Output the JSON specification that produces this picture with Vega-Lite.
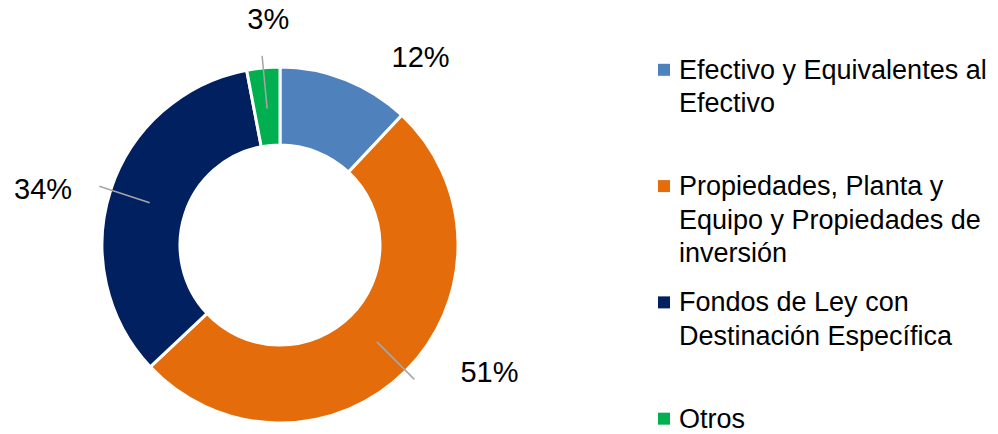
{
  "$schema": "https://vega.github.io/schema/vega-lite/v6.json",
  "padding": 0,
  "autosize": {"type": "pad"},
  "spacing": 0,
  "config": {"view": {"stroke": null}, "font": "Liberation Sans"},
  "data": {
    "values": [
      {"orden": 1, "categoria": "Efectivo y Equivalentes al Efectivo", "leyenda": "Efectivo y Equivalentes al\nEfectivo", "valor": 0.12},
      {"orden": 2, "categoria": "Propiedades, Planta y Equipo y Propiedades de inversión", "leyenda": "Propiedades, Planta y\nEquipo y Propiedades de\ninversión", "valor": 0.51},
      {"orden": 3, "categoria": "Fondos de Ley con Destinación Específica", "leyenda": "Fondos de Ley con\nDestinación Específica", "valor": 0.34},
      {"orden": 4, "categoria": "Otros", "leyenda": "Otros", "valor": 0.03}
    ]
  },
  "hconcat": [
    {
      "width": 560,
      "height": 434,
      "encoding": {
        "theta": {"field": "valor", "type": "quantitative", "stack": true},
        "order": {"field": "orden", "type": "quantitative"},
        "color": {
          "field": "categoria",
          "type": "nominal",
          "scale": {
            "domain": ["Efectivo y Equivalentes al Efectivo", "Propiedades, Planta y Equipo y Propiedades de inversión", "Fondos de Ley con Destinación Específica", "Otros"],
            "range": ["#4F81BD", "#E46C0A", "#002060", "#00B050"]
          },
          "legend": null
        }
      },
      "layer": [
        {
          "mark": {"type": "arc", "outerRadius": 178, "innerRadius": 100, "stroke": "white", "strokeWidth": 3, "yOffset": 28}
        },
        {
          "transform": [
            {"window": [{"op": "sum", "field": "valor", "as": "cum"}], "sort": [{"field": "orden"}], "frame": [null, 0]},
            {"calculate": "datum.cum - datum.valor / 2", "as": "mid"},
            {"filter": "datum.orden > 1"}
          ],
          "mark": {"type": "arc", "outerRadius": 190, "innerRadius": 137, "filled": false, "strokeWidth": 1.5, "yOffset": 28},
          "encoding": {
            "theta": {"field": "mid", "type": "quantitative", "stack": null},
            "theta2": {"field": "mid"},
            "color": {"value": "#A6A6A6"}
          }
        },
        {
          "transform": [
            {"window": [{"op": "sum", "field": "valor", "as": "cum"}], "sort": [{"field": "orden"}], "frame": [null, 0]},
            {"calculate": "datum.cum - datum.valor / 2", "as": "mid"},
            {"filter": "datum.orden == 1"}
          ],
          "mark": {"type": "text", "radius": 218, "thetaOffset": 0.16, "fontSize": 29, "yOffset": 28, "align": "left", "baseline": "middle"},
          "encoding": {
            "theta": {"field": "mid", "type": "quantitative", "stack": null},
            "text": {"field": "valor", "type": "quantitative", "format": ".0%"},
            "color": {"value": "black"}
          }
        },
        {
          "transform": [
            {"window": [{"op": "sum", "field": "valor", "as": "cum"}], "sort": [{"field": "orden"}], "frame": [null, 0]},
            {"calculate": "datum.cum - datum.valor / 2", "as": "mid"},
            {"filter": "datum.orden == 2"}
          ],
          "mark": {"type": "text", "radius": 221, "thetaOffset": -0.17, "fontSize": 29, "yOffset": 28, "align": "left", "baseline": "middle"},
          "encoding": {
            "theta": {"field": "mid", "type": "quantitative", "stack": null},
            "text": {"field": "valor", "type": "quantitative", "format": ".0%"},
            "color": {"value": "black"}
          }
        },
        {
          "transform": [
            {"window": [{"op": "sum", "field": "valor", "as": "cum"}], "sort": [{"field": "orden"}], "frame": [null, 0]},
            {"calculate": "datum.cum - datum.valor / 2", "as": "mid"},
            {"filter": "datum.orden == 3"}
          ],
          "mark": {"type": "text", "radius": 215, "thetaOffset": -0.056, "fontSize": 29, "yOffset": 28, "align": "right", "baseline": "middle"},
          "encoding": {
            "theta": {"field": "mid", "type": "quantitative", "stack": null},
            "text": {"field": "valor", "type": "quantitative", "format": ".0%"},
            "color": {"value": "black"}
          }
        },
        {
          "transform": [
            {"window": [{"op": "sum", "field": "valor", "as": "cum"}], "sort": [{"field": "orden"}], "frame": [null, 0]},
            {"calculate": "datum.cum - datum.valor / 2", "as": "mid"},
            {"filter": "datum.orden == 4"}
          ],
          "mark": {"type": "text", "radius": 225, "thetaOffset": 0.042, "fontSize": 29, "yOffset": 28, "align": "center", "baseline": "middle"},
          "encoding": {
            "theta": {"field": "mid", "type": "quantitative", "stack": null},
            "text": {"field": "valor", "type": "quantitative", "format": ".0%"},
            "color": {"value": "black"}
          }
        }
      ]
    },
    {
      "width": 238,
      "height": 434,
      "encoding": {
        "y": {"field": "orden", "type": "ordinal", "axis": null, "scale": {"type": "point", "padding": 0.366, "align": 0.82}}
      },
      "layer": [
        {
          "mark": {"type": "point", "shape": "square", "filled": true, "size": 144, "opacity": 1, "xOffset": -15},
          "encoding": {
            "color": {"field": "categoria", "type": "nominal", "legend": null}
          }
        },
        {
          "mark": {"type": "text", "align": "left", "baseline": "alphabetic", "dy": 9, "fontSize": 27, "lineBreak": "\n", "lineHeight": 33.5, "color": "black"},
          "encoding": {
            "text": {"field": "leyenda", "type": "nominal"}
          }
        }
      ]
    }
  ]
}
